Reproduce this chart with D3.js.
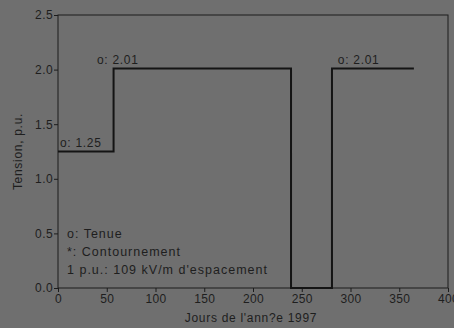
<!DOCTYPE html>
<html lang="fr">
<head>
<meta charset="UTF-8">
<title>Tension</title>
<script src="https://d3js.org/d3.v7.min.js"></script>
<style>
    body { margin: 0; background: #6f6f6f; }
    svg { display: block; }
    text { font-family: "Liberation Sans", Arial, sans-serif; fill: #1e1e1e; font-size: 12px; letter-spacing: 0.7px; }
    .legend { font-size: 12.5px; letter-spacing: 1px; }
    .axis path, .axis line { stroke: #1c1c1c; }
    .axis text { font-size: 12px; letter-spacing: 0.4px; }
</style>
</head>
<body>
<script>
    // step profile: day of year, tension in p.u.
    var days     = [0, 57, 57, 239, 239, 281, 281, 365];
    var tensions = [1.25, 1.25, 2.01, 2.01, 0, 0, 2.01, 2.01];

    var peakLabels = [
        {day: 2,   value: 1.25, text: "o: 1.25"},
        {day: 40,  value: 2.01, text: "o: 2.01"},
        {day: 287, value: 2.01, text: "o: 2.01"}
    ];

    var legendLines = ["o: Tenue", "*: Contournement", "1 p.u.: 109 kV/m d'espacement"];

    var xTicks = [0, 50, 100, 150, 200, 250, 300, 350, 400];
    var yTicks = [0, 0.5, 1.0, 1.5, 2.0, 2.5];

    var width = 454, height = 328;
    var margin = {left: 58, right: 6, top: 15, bottom: 40};

    var svg = d3.select("body").append("svg")
        .attr("width", width)
        .attr("height", height);

    svg.append("rect").attr("width", width).attr("height", height).attr("fill", "#6f6f6f");

    var x = d3.scaleLinear().domain([0, 400]).range([margin.left, width - margin.right]);
    var y = d3.scaleLinear().domain([0, 2.5]).range([height - margin.bottom, margin.top]);

    // frame
    svg.append("rect")
        .attr("x", x(0)).attr("y", y(2.5))
        .attr("width", x(400) - x(0)).attr("height", y(0) - y(2.5))
        .attr("fill", "none").attr("stroke", "#1c1c1c").attr("stroke-width", 1);

    svg.append("g")
        .attr("class", "axis")
        .attr("transform", "translate(0," + y(0) + ")")
        .call(d3.axisBottom(x).tickValues(xTicks).tickSize(4).tickPadding(2).tickFormat(d3.format("d")))
        .call(function(g){ g.select(".domain").remove(); });

    svg.append("g")
        .attr("class", "axis")
        .attr("transform", "translate(" + x(0) + ",0)")
        .call(d3.axisLeft(y).tickValues(yTicks).tickSize(4).tickPadding(1).tickFormat(d3.format(".1f")))
        .call(function(g){ g.select(".domain").remove(); });

    var pts = days.map(function(d, i){ return [d, tensions[i]]; });
    svg.append("path")
        .datum(pts)
        .attr("fill", "none")
        .attr("stroke", "#141414")
        .attr("stroke-width", 2)
        .attr("d", d3.line().x(function(d){ return x(d[0]); }).y(function(d){ return y(d[1]); }));

    svg.selectAll(".peak")
        .data(peakLabels)
        .enter().append("text")
        .attr("class", "peak")
        .attr("x", function(d){ return x(d.day); })
        .attr("y", function(d){ return y(d.value) - 4.5; })
        .text(function(d){ return d.text; });

    svg.selectAll(".legend")
        .data(legendLines)
        .enter().append("text")
        .attr("class", "legend")
        .attr("x", 67)
        .attr("y", function(d, i){ return 238 + i * 18; })
        .text(function(d){ return d; });

    svg.append("text")
        .attr("x", 251)
        .attr("y", 322)
        .attr("text-anchor", "middle")
        .text("Jours de l'ann?e 1997");

    svg.append("text")
        .attr("transform", "translate(22," + ((y(0) + y(2.5)) / 2) + ") rotate(-90)")
        .attr("text-anchor", "middle")
        .text("Tension, p.u.");
</script>
</body>
</html>
